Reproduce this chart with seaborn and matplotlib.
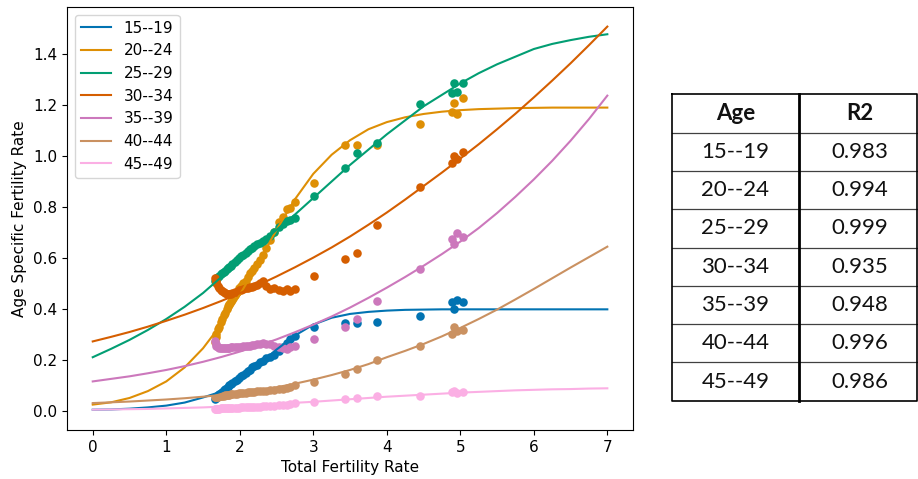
import matplotlib
matplotlib.use("Agg")
import matplotlib.pyplot as plt
import seaborn as sns

# age groups shown in the legend and the table
age_groups = ["15--19", "20--24", "25--29", "30--34", "35--39", "40--44", "45--49"]
r2_values = ["0.983", "0.994", "0.999", "0.935", "0.948", "0.996", "0.986"]

# observed total fertility rate (shared by all age groups)
tfr_obs = [1.66, 1.67, 1.68, 1.70, 1.72, 1.74, 1.76, 1.78, 1.80, 1.82,
           1.84, 1.86, 1.88, 1.90, 1.93, 1.96, 1.99, 2.02, 2.05, 2.08,
           2.11, 2.14, 2.17, 2.20, 2.24, 2.28, 2.32, 2.36, 2.41, 2.46,
           2.53, 2.59, 2.64, 2.69, 2.75, 3.01, 3.43, 3.59, 3.87, 4.45,
           4.89, 4.92, 4.95, 5.04]

# observed age specific fertility rates
obs_15_19 = [0.045, 0.05, 0.055, 0.06, 0.065, 0.07, 0.075, 0.08, 0.085, 0.09,
             0.095, 0.10, 0.105, 0.11, 0.115, 0.12, 0.13, 0.135, 0.14, 0.15,
             0.155, 0.16, 0.17, 0.175, 0.18, 0.19, 0.195, 0.205, 0.21, 0.22,
             0.235, 0.25, 0.265, 0.28, 0.295, 0.327, 0.346, 0.343, 0.35, 0.37,
             0.427, 0.40, 0.435, 0.425]
obs_20_24 = [0.27, 0.29, 0.30, 0.32, 0.33, 0.35, 0.36, 0.375, 0.385, 0.40,
             0.41, 0.42, 0.43, 0.44, 0.455, 0.465, 0.48, 0.49, 0.50, 0.51,
             0.525, 0.54, 0.55, 0.56, 0.575, 0.59, 0.61, 0.64, 0.67, 0.70,
             0.74, 0.76, 0.79, 0.795, 0.819, 0.895, 1.042, 1.042, 1.042, 1.127,
             1.171, 1.21, 1.166, 1.227]
obs_25_29 = [0.51, 0.515, 0.52, 0.525, 0.53, 0.535, 0.54, 0.545, 0.55, 0.555,
             0.56, 0.565, 0.57, 0.577, 0.585, 0.592, 0.60, 0.607, 0.613, 0.62,
             0.627, 0.633, 0.64, 0.645, 0.655, 0.66, 0.667, 0.675, 0.686, 0.70,
             0.72, 0.735, 0.744, 0.75, 0.757, 0.842, 0.953, 1.012, 1.05, 1.204,
             1.247, 1.286, 1.25, 1.286]
obs_30_34 = [0.52, 0.51, 0.50, 0.49, 0.48, 0.475, 0.47, 0.465, 0.462, 0.46,
             0.46, 0.46, 0.46, 0.462, 0.465, 0.468, 0.472, 0.475, 0.478, 0.48,
             0.482, 0.484, 0.487, 0.49, 0.495, 0.50, 0.51, 0.49, 0.477, 0.48,
             0.475, 0.47, 0.477, 0.47, 0.479, 0.529, 0.594, 0.618, 0.731, 0.877,
             0.973, 0.999, 0.99, 1.015]
obs_35_39 = [0.275, 0.26, 0.255, 0.25, 0.248, 0.247, 0.246, 0.246, 0.247, 0.247,
             0.248, 0.248, 0.249, 0.249, 0.25, 0.25, 0.251, 0.252, 0.253, 0.254,
             0.255, 0.256, 0.257, 0.258, 0.26, 0.262, 0.265, 0.262, 0.26, 0.255,
             0.25, 0.248, 0.242, 0.25, 0.255, 0.281, 0.327, 0.359, 0.431, 0.558,
             0.675, 0.653, 0.699, 0.683]
obs_40_44 = [0.052, 0.053, 0.054, 0.055, 0.056, 0.057, 0.058, 0.059, 0.06, 0.061,
             0.062, 0.063, 0.064, 0.065, 0.066, 0.067, 0.068, 0.069, 0.07, 0.071,
             0.072, 0.073, 0.074, 0.075, 0.076, 0.077, 0.078, 0.079, 0.08, 0.082,
             0.085, 0.086, 0.088, 0.092, 0.10, 0.114, 0.144, 0.163, 0.199, 0.255,
             0.30, 0.327, 0.313, 0.318]
obs_45_49 = [0.007, 0.007, 0.008, 0.008, 0.008, 0.009, 0.009, 0.009, 0.010, 0.010,
             0.010, 0.011, 0.011, 0.011, 0.012, 0.012, 0.012, 0.013, 0.013, 0.013,
             0.014, 0.014, 0.015, 0.015, 0.016, 0.016, 0.017, 0.018, 0.019, 0.020,
             0.021, 0.022, 0.024, 0.026, 0.03, 0.035, 0.046, 0.048, 0.056, 0.059,
             0.072, 0.077, 0.07, 0.074]

# fitted curves
curve_tfr = [0.0, 0.25, 0.5, 0.75, 1.0, 1.25, 1.5, 1.75, 2.0, 2.25,
             2.5, 2.75, 3.0, 3.25, 3.5, 3.75, 4.0, 4.25, 4.5, 4.75,
             5.0, 5.25, 5.5, 5.75, 6.0, 6.25, 6.5, 6.75, 7.0]
fit_15_19 = [0.004, 0.005, 0.008, 0.013, 0.02, 0.032, 0.052, 0.075, 0.125, 0.18,
             0.24, 0.295, 0.338, 0.365, 0.38, 0.388, 0.393, 0.396, 0.397, 0.398,
             0.398, 0.398, 0.398, 0.398, 0.398, 0.398, 0.398, 0.398, 0.398]
fit_20_24 = [0.024, 0.033, 0.05, 0.077, 0.115, 0.17, 0.245, 0.34, 0.455, 0.58,
             0.71, 0.83, 0.93, 1.005, 1.062, 1.105, 1.133, 1.152, 1.165, 1.174,
             1.18, 1.184, 1.186, 1.188, 1.189, 1.19, 1.19, 1.19, 1.19]
fit_25_29 = [0.21, 0.243, 0.278, 0.317, 0.36, 0.408, 0.462, 0.525, 0.588, 0.65,
             0.71, 0.77, 0.835, 0.90, 0.965, 1.025, 1.085, 1.14, 1.195, 1.24,
             1.285, 1.325, 1.36, 1.39, 1.42, 1.44, 1.455, 1.468, 1.478]
fit_30_34 = [0.272, 0.29, 0.309, 0.33, 0.353, 0.377, 0.403, 0.431, 0.461, 0.493,
             0.527, 0.563, 0.601, 0.641, 0.684, 0.73, 0.778, 0.829, 0.882, 0.935,
             0.99, 1.046, 1.105, 1.166, 1.23, 1.296, 1.364, 1.435, 1.508]
fit_35_39 = [0.115, 0.125, 0.135, 0.147, 0.16, 0.175, 0.192, 0.211, 0.232, 0.255,
             0.28, 0.308, 0.338, 0.37, 0.405, 0.443, 0.483, 0.525, 0.569, 0.615,
             0.664, 0.717, 0.776, 0.84, 0.908, 0.981, 1.06, 1.145, 1.237]
fit_40_44 = [0.03, 0.033, 0.036, 0.04, 0.044, 0.049, 0.055, 0.062, 0.07, 0.08,
             0.092, 0.106, 0.122, 0.14, 0.16, 0.183, 0.21, 0.235, 0.262, 0.292,
             0.325, 0.36, 0.397, 0.437, 0.478, 0.52, 0.562, 0.603, 0.644]
fit_45_49 = [0.004, 0.005, 0.006, 0.007, 0.009, 0.011, 0.013, 0.016, 0.019, 0.023,
             0.027, 0.031, 0.035, 0.04, 0.045, 0.05, 0.055, 0.059, 0.063, 0.067,
             0.071, 0.074, 0.077, 0.08, 0.082, 0.084, 0.085, 0.087, 0.088]

observed = [obs_15_19, obs_20_24, obs_25_29, obs_30_34, obs_35_39, obs_40_44, obs_45_49]
fitted = [fit_15_19, fit_20_24, fit_25_29, fit_30_34, fit_35_39, fit_40_44, fit_45_49]

plt.rcParams['font.size'] = 11
palette = sns.color_palette("colorblind", 7)

fig = plt.figure(figsize=(9.18, 4.79), dpi=100)
ax = fig.add_axes([0.073, 0.1023, 0.6166, 0.8831])

# points first, then the fitted curve for each age group
for i, age in enumerate(age_groups):
    sns.scatterplot(x=tfr_obs, y=observed[i], color=palette[i], s=38,
                    linewidth=0, ax=ax, legend=False)
    sns.lineplot(x=curve_tfr, y=fitted[i], color=palette[i], lw=1.5,
                 ax=ax, label=age)

ax.set_xlim(-0.35, 7.35)
ax.set_ylim(-0.0757, 1.585)
ax.set_xticks(range(0, 8))
ax.set_xlabel("Total Fertility Rate")
ax.set_ylabel("Age Specific Fertility Rate")
ax.legend(loc="upper left")

# R2 table drawn on an overlay in pixel units
tax = fig.add_axes([0, 0, 1, 1])
tax.set_xlim(0, 918)
tax.set_ylim(479, 0)
tax.axis("off")

left, mid, right = 671.7, 799.3, 917.0
top, row_h = 94.3, 38.3
n_rows = len(age_groups) + 1
bottom = top + n_rows * row_h

for r in range(1, n_rows):
    y = top + r * row_h
    tax.plot([left, right], [y, y], color="#404040", lw=0.9)
tax.plot([left, right, right, left, left], [top, top, bottom, bottom, top],
         color="black", lw=1.2)
tax.plot([mid, mid], [top, bottom], color="black", lw=2.0)

cell_font = dict(family=["Lato", "DejaVu Sans"], fontsize=16,
                 ha="center", va="center", color="#111111")
c1 = (left + mid) / 2
c2 = (mid + right) / 2 + 2
tax.text(c1, top + row_h / 2, "Age", fontweight="bold", **cell_font)
tax.text(c2, top + row_h / 2, "R2", fontweight="bold", **cell_font)
for r, (age, r2) in enumerate(zip(age_groups, r2_values), start=1):
    yc = top + r * row_h + row_h / 2
    tax.text(c1, yc, age, **cell_font)
    tax.text(c2, yc, r2, **cell_font)

fig.savefig("out.png", dpi=100)
